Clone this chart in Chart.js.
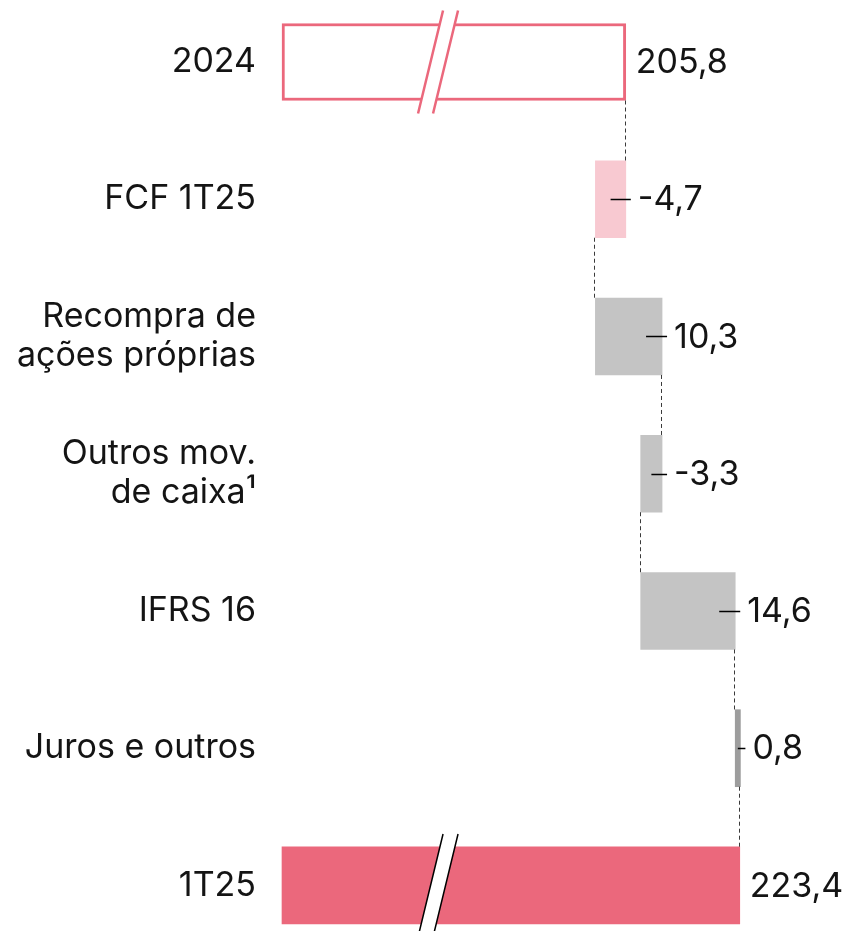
<!DOCTYPE html>
<html><head><meta charset="utf-8">
<script src="https://cdn.jsdelivr.net/npm/chart.js@4/dist/chart.umd.min.js"></script>
<style>html,body{margin:0;padding:0;background:#fff}canvas{display:block}</style>
</head><body>
<canvas id="c" width="844" height="931"></canvas>
<script>
// ---- data ----
const categories = [['2024'], ['FCF 1T25'], ['Recompra de', 'ações próprias'], ['Outros mov.', 'de caixa¹'], ['IFRS 16'], ['Juros e outros'], ['1T25']];
const openingTotal = 205.8;
const deltas = [-4.7, 10.3, -3.3, 14.6, 0.8];
const closingTotal = 223.4;
// broken value axis
const axisMin = 152.7;
const axisMax = 239.5;
const breakAt = 176.8;

// ---- build floating ranges ----
const ranges = [[axisMin, openingTotal]];
let running = openingTotal;
deltas.forEach(d => { ranges.push([running, running + d]); running += d; });
ranges.push([axisMin, closingTotal]);
const shownValues = [openingTotal, ...deltas, closingTotal];
const fmt = v => v.toFixed(1).replace('.', ',');

const PINK = '#eb687c';
const fills = ['#ffffff', '#f8c9d1', '#c4c4c4', '#c4c4c4', '#c4c4c4', '#9d9d9d', PINK];
const borders = [PINK, 'rgba(0,0,0,0)', 'rgba(0,0,0,0)', 'rgba(0,0,0,0)', 'rgba(0,0,0,0)', 'rgba(0,0,0,0)', 'rgba(0,0,0,0)'];
const bws = [3, 0, 0, 0, 0, 0, 0];
const FONT = 'Inter, "Noto Sans", sans-serif';
const TEXT = '#141414';
const FS = 34;

const decor = {
  id: 'decor',
  afterDatasetsDraw(chart) {
    const ctx = chart.ctx;
    const bars = chart.getDatasetMeta(0).data;
    const xs = chart.scales.x;
    const n = bars.length;
    const P = bars.map(b => b.getProps(['x', 'y', 'base', 'height'], true));

    // dashed connectors at the running total reached by each bar
    ctx.save();
    ctx.strokeStyle = '#3a3a3a';
    ctx.lineWidth = 1;
    ctx.setLineDash([4, 3]);
    for (let i = 0; i < n - 1; i++) {
      const a = P[i], b = P[i + 1];
      const x = Math.round(xs.getPixelForValue(ranges[i][1])) - 0.5;
      ctx.beginPath();
      ctx.moveTo(x, a.y + a.height / 2);
      ctx.lineTo(x, b.y - b.height / 2);
      ctx.stroke();
    }
    ctx.restore();

    // axis break marks on the two total bars
    [[0, PINK, 2.5], [n - 1, '#000000', 1.5]].forEach(([i, col, lw]) => {
      const p = P[i];
      const cx = xs.getPixelForValue(breakAt);
      const top = p.y - p.height / 2 - 13;
      const bot = Math.min(p.y + p.height / 2 + 13, chart.height + 2);
      const slope = 25 / 103;
      const offTop = (p.y - top) * slope, offBot = (bot - p.y) * slope;
      const g = 7.5;
      ctx.save();
      ctx.fillStyle = '#ffffff';
      ctx.beginPath();
      ctx.moveTo(cx - g + offTop, top);
      ctx.lineTo(cx + g + offTop, top);
      ctx.lineTo(cx + g - offBot, bot);
      ctx.lineTo(cx - g - offBot, bot);
      ctx.closePath();
      ctx.fill();
      ctx.strokeStyle = col;
      ctx.lineWidth = lw;
      ctx.beginPath();
      ctx.moveTo(cx - g + offTop, top); ctx.lineTo(cx - g - offBot, bot);
      ctx.moveTo(cx + g + offTop, top); ctx.lineTo(cx + g - offBot, bot);
      ctx.stroke();
      ctx.restore();
    });

    // leader lines and value labels
    ctx.save();
    ctx.font = FS + 'px ' + FONT;
    ctx.fillStyle = TEXT;
    ctx.textBaseline = 'middle';
    ctx.textAlign = 'left';
    ctx.strokeStyle = '#000';
    ctx.lineWidth = 1.5;
    for (let i = 0; i < n; i++) {
      const p = P[i];
      const right = Math.max(p.x, p.base);
      const left = Math.min(p.x, p.base);
      const isTotal = (i === 0 || i === n - 1);
      if (!isTotal) {
        const start = Math.max((left + right) / 2, right - 16);
        ctx.beginPath();
        ctx.moveTo(start, Math.round(p.y) + 0.5);
        ctx.lineTo(right + 5, Math.round(p.y) + 0.5);
        ctx.stroke();
      }
      ctx.fillText(fmt(shownValues[i]), right + (isTotal ? 10 : 12), p.y + 1);
    }
    ctx.restore();
  }
};

new Chart(document.getElementById('c'), {
  type: 'bar',
  data: {
    labels: categories,
    datasets: [{
      data: ranges,
      backgroundColor: fills,
      borderColor: borders,
      borderWidth: bws,
      borderSkipped: false,
      barThickness: 77,
      clip: false
    }]
  },
  options: {
    indexAxis: 'y',
    responsive: false,
    animation: false,
    layout: { padding: { top: 62, bottom: 45, left: 0, right: 0 } },
    plugins: { legend: { display: false }, tooltip: { enabled: false } },
    scales: {
      x: { display: false, min: axisMin, max: axisMax },
      y: {
        offset: false,
        grid: { display: false, drawTicks: false },
        border: { display: false },
        ticks: { font: { family: FONT, size: FS, lineHeight: 1.15 }, color: TEXT, padding: 26 },
        afterFit(scale) { scale.width = 282; }
      }
    }
  },
  plugins: [decor]
});
</script>
</body></html>
